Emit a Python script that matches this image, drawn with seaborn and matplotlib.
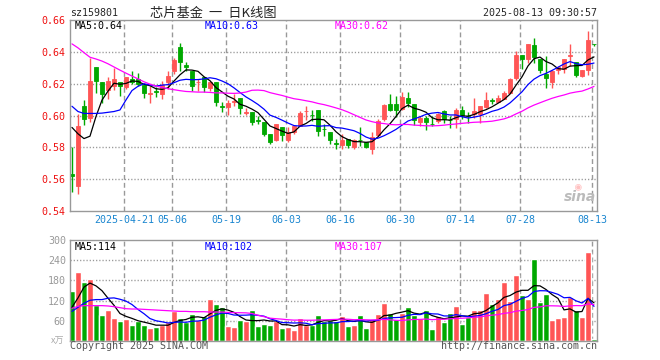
import numpy as np
import pandas as pd
import matplotlib
matplotlib.use('Agg')
import matplotlib.pyplot as plt
import seaborn as sns

# daily K line of sz159801, 2025-04-08 .. 2025-08-13 (88 trading days)
open_ = [0.5635, 0.556, 0.606, 0.5982, 0.6304, 0.621, 0.6162, 0.6187, 0.6208, 0.618,
         0.6229, 0.6229, 0.6191, 0.6135, 0.6152, 0.6135, 0.6208, 0.6281, 0.6431, 0.6318,
         0.6281, 0.6208, 0.6245, 0.617, 0.6212, 0.6062, 0.6052, 0.6086, 0.6107, 0.6018,
         0.6025, 0.597, 0.5957, 0.5884, 0.5846, 0.5926, 0.5846, 0.5894, 0.5932, 0.6026,
         0.6004, 0.6034, 0.5916, 0.5898, 0.5826, 0.5815, 0.5852, 0.580, 0.5848, 0.5832,
         0.579, 0.5878, 0.5978, 0.607, 0.607, 0.604, 0.6112, 0.6074, 0.5959, 0.5982,
         0.5946, 0.5965, 0.6028, 0.5972, 0.5976, 0.6034, 0.5998, 0.6011, 0.6011, 0.6055,
         0.6097, 0.6084, 0.6101, 0.6143, 0.6237, 0.6377, 0.6352, 0.6446, 0.6352, 0.6262,
         0.621, 0.6289, 0.6293, 0.6371, 0.6335, 0.6247, 0.6285, 0.645]
high = [0.580, 0.6007, 0.6097, 0.6364, 0.6304, 0.621, 0.6243, 0.630, 0.6208, 0.6245,
        0.6277, 0.6264, 0.6191, 0.6187, 0.6176, 0.6218, 0.6279, 0.6364, 0.6454, 0.6333,
        0.6281, 0.6229, 0.6245, 0.6218, 0.6212, 0.6082, 0.610, 0.6132, 0.6107, 0.605,
        0.6025, 0.600, 0.5957, 0.5884, 0.5946, 0.5926, 0.5926, 0.5932, 0.603, 0.6061,
        0.6034, 0.6034, 0.5946, 0.5898, 0.5852, 0.5884, 0.5852, 0.5852, 0.5926, 0.5832,
        0.5894, 0.5978, 0.6072, 0.6135, 0.6125, 0.6149, 0.6147, 0.6074, 0.5997, 0.5997,
        0.5997, 0.6017, 0.6034, 0.5997, 0.6049, 0.6059, 0.6024, 0.6107, 0.6059, 0.6147,
        0.6112, 0.6126, 0.6153, 0.6237, 0.6404, 0.6383, 0.645, 0.6484, 0.6352, 0.6373,
        0.6289, 0.631, 0.6356, 0.6452, 0.6335, 0.6285, 0.653, 0.645]
low = [0.552, 0.5508, 0.5942, 0.596, 0.614, 0.608, 0.6103, 0.6162, 0.6124, 0.6166,
       0.6201, 0.6187, 0.6112, 0.6076, 0.6118, 0.6103, 0.6166, 0.626, 0.6281, 0.6281,
       0.6155, 0.6155, 0.6149, 0.6155, 0.6061, 0.6023, 0.6003, 0.6061, 0.601, 0.6003,
       0.594, 0.5946, 0.5873, 0.5821, 0.5842, 0.5842, 0.5832, 0.5884, 0.5932, 0.5971,
       0.5967, 0.5873, 0.5873, 0.5821, 0.579, 0.579, 0.5794, 0.579, 0.581, 0.5794,
       0.5758, 0.5873, 0.5967, 0.603, 0.599, 0.6034, 0.6055, 0.5938, 0.5934, 0.5909,
       0.5934, 0.5955, 0.5951, 0.5923, 0.5923, 0.5976, 0.5951, 0.5986, 0.5955, 0.6049,
       0.607, 0.6084, 0.6101, 0.6143, 0.6226, 0.6293, 0.6331, 0.6327, 0.6268, 0.6174,
       0.6174, 0.6258, 0.6264, 0.631, 0.6243, 0.6241, 0.6252, 0.6435]
close = [0.562, 0.5934, 0.598, 0.6216, 0.6218, 0.6135, 0.6216, 0.6229, 0.6183, 0.6245,
         0.6212, 0.6201, 0.6139, 0.6139, 0.6149, 0.6193, 0.625, 0.635, 0.6337, 0.6302,
         0.6187, 0.6212, 0.618, 0.6212, 0.6086, 0.6052, 0.6076, 0.6093, 0.6045, 0.6025,
         0.5961, 0.5965, 0.5884, 0.5836, 0.5946, 0.5878, 0.5894, 0.5932, 0.6015, 0.603,
         0.6002, 0.5905, 0.5913, 0.5846, 0.5824, 0.5848, 0.5815, 0.5846, 0.5844, 0.5805,
         0.5867, 0.5967, 0.6067, 0.6034, 0.6034, 0.6114, 0.6076, 0.5972, 0.5982, 0.5959,
         0.5944, 0.6007, 0.5976, 0.597, 0.6034, 0.6003, 0.5995, 0.6028, 0.6059, 0.6097,
         0.6094, 0.6107, 0.6143, 0.6231, 0.6377, 0.6356, 0.645, 0.6369, 0.6283, 0.6237,
         0.6279, 0.6304, 0.6352, 0.6379, 0.6252, 0.6285, 0.6477, 0.6448]
# volume in 万 shares
volume = [150, 204, 174, 183, 108, 78, 93, 69, 60, 66,
          48, 58, 48, 39, 42, 48, 57, 89, 69, 57,
          81, 63, 75, 126, 111, 102, 45, 42, 63, 60,
          93, 45, 51, 48, 60, 39, 42, 33, 69, 48,
          48, 78, 60, 62, 60, 75, 45, 48, 78, 39,
          66, 81, 114, 84, 66, 84, 102, 78, 69, 93,
          36, 75, 57, 84, 105, 51, 72, 93, 93, 144,
          111, 126, 174, 120, 195, 138, 126, 243, 117, 141,
          63, 69, 72, 132, 93, 72, 264, 6]

ma5_head = [0.5925, 0.5885, 0.5855, 0.5870]
ma10_head = [0.6058, 0.6025, 0.6013, 0.6013, 0.6013, 0.6015, 0.6020, 0.6025, 0.6035]
ma30_head = [0.6450, 0.6425, 0.6395, 0.6366, 0.6355, 0.6342, 0.6325, 0.6305, 0.6285, 0.6266,
             0.6248, 0.6230, 0.6212, 0.6197, 0.6185, 0.6176, 0.6168, 0.6162, 0.6156, 0.6151,
             0.6149, 0.6147, 0.6147, 0.6145, 0.6142, 0.6142, 0.6140, 0.6139, 0.6141]
vma5_head = [100, 128, 160, 172]
vma10_head = [88, 100, 112, 121, 123, 123, 127, 128, 124]
vma30_head = [97, 103, 105, 105, 105, 105, 104, 102, 99, 96,
              95, 95, 94, 93, 92, 91, 90, 89, 88, 88,
              87, 87, 87, 86, 86, 86, 85, 84, 84]

date_pos = [9, 17, 26, 36, 45, 55, 65, 75, 87]
date_labels = ['2025-04-21', '05-06', '05-19', '06-03', '06-16', '06-30', '07-14', '07-28', '08-13']
price_ticks = [0.54, 0.56, 0.58, 0.60, 0.62, 0.64, 0.66]
vol_ticks = [0, 60, 120, 180, 240, 300]

RED = '#ff5555'
GREEN = '#00a800'
GRID = '#999999'
MONO = 'DejaVu Sans Mono'
CJK = ['Noto Sans CJK SC', 'DejaVu Sans']
FS = 7.2


def moving_avg(values, n, head):
    ma = pd.Series(values, dtype=float).rolling(n).mean()
    ma.iloc[:len(head)] = head
    return ma


def fx(x):
    return x / 660


def fy(y):
    return 1 - y / 360


sns.set_theme(style='white')
plt.rcParams['font.family'] = [MONO, 'Noto Sans CJK SC']
plt.rcParams['lines.scale_dashes'] = False

day = np.arange(len(close))
o = np.array(open_)
c = np.array(close)
up = c >= o
colors = np.where(up, RED, GREEN)

fig = plt.figure(figsize=(6.6, 3.6), dpi=100)
axp = fig.add_axes([fx(70), fy(211), 527 / 660, 191 / 360])
axv = fig.add_axes([fx(70), fy(341), 527 / 660, 101 / 360])

# grid lines, kept under the bars
for ax, ticks in [(axp, price_ticks[1:-1]), (axv, vol_ticks[1:-1])]:
    for p in date_pos:
        ax.axvline(p - 0.3, color=GRID, linestyle=(0, (3.5, 2.2)), lw=1.0, zorder=1.2)
    for t in ticks:
        ax.axhline(t, color=GRID, linestyle=(0, (0.9, 1.4)), lw=1.0, zorder=1.2)

# candles
axp.vlines(day, low, high, colors=colors, lw=1, zorder=2)
axp.bar(day, np.abs(c - o), bottom=np.minimum(o, c), width=0.8,
        color=colors, edgecolor=colors, linewidth=0.6, zorder=2)
for n, head, col in [(5, ma5_head, 'black'), (10, ma10_head, '#0000ff'), (30, ma30_head, '#ff00ff')]:
    sns.lineplot(x=day, y=moving_avg(close, n, head), color=col, lw=0.9, ax=axp, zorder=3)

# volume
df = pd.DataFrame({'day': day, 'volume': volume, 'dir': np.where(up, 'up', 'down')})
sns.barplot(data=df, x='day', y='volume', hue='dir', palette={'up': RED, 'down': GREEN},
            native_scale=True, dodge=False, width=0.85, saturation=1, errorbar=None,
            legend=False, ax=axv, zorder=2)
for n, head, col in [(5, vma5_head, 'black'), (10, vma10_head, '#0000ff'), (30, vma30_head, '#ff00ff')]:
    sns.lineplot(x=day, y=moving_avg(volume, n, head), color=col, lw=0.9, ax=axv, zorder=3)

for ax in (axp, axv):
    ax.set_xlim(-0.33, 87.5)
    ax.set_xticks([p - 0.3 for p in date_pos])
    ax.set_xlabel('')
    ax.set_ylabel('')
    ax.tick_params(length=0, pad=3)
    for s in ax.spines.values():
        s.set_visible(True)
        s.set_color(GRID)
        s.set_linewidth(1.0)

axp.set_ylim(0.54, 0.66)
axp.set_yticks(price_ticks)
axp.set_yticklabels([f'{t:.2f}' for t in price_ticks], color='#ee1111', fontsize=FS, family=MONO)
axp.set_xticklabels(date_labels, color='#1a86d0', fontsize=FS, family=MONO)

axv.set_ylim(0, 300)
axv.set_yticks(vol_ticks)
axv.set_yticklabels([''] + [str(t) for t in vol_ticks[1:]], color='#999999', fontsize=FS, family=MONO)
axv.set_xticklabels([])

# header
fig.text(fx(70), fy(13), 'sz159801', ha='left', va='center', fontsize=FS, family=MONO)
fig.text(fx(213), fy(13), '芯片基金  一  日K线图', ha='center', va='center', fontsize=9.5, family=CJK)
fig.text(fx(597), fy(13), '2025-08-13 09:30:57', ha='right', va='center', fontsize=FS, family=MONO)

# MA legends
for y, texts in [(26, ['MA5:0.64', 'MA10:0.63', 'MA30:0.62']), (247, ['MA5:114', 'MA10:102', 'MA30:107'])]:
    for x, t, col in zip([75, 205, 335], texts, ['black', '#0000ff', '#ff00ff']):
        fig.text(fx(x), fy(y), t, ha='left', va='center', fontsize=FS, family=MONO, color=col)

fig.text(fx(64), fy(341), 'x万', ha='right', va='center', fontsize=6.5, family=CJK, color='#aaaaaa')
fig.text(fx(70), fy(346), 'Copyright 2025 SINA.COM', ha='left', va='center', fontsize=FS, family=MONO, color='#555555')
fig.text(fx(597), fy(346), 'http://finance.sina.com.cn', ha='right', va='center', fontsize=FS, family=MONO, color='#555555')

# faint sina watermark
fig.text(fx(578), fy(186), '◉', ha='center', va='center', fontsize=8, color='#ff9999', alpha=0.6)
fig.text(fx(596), fy(197), 'sina', ha='right', va='center', fontsize=10, fontweight='bold',
         style='italic', family='DejaVu Sans', color='#bbbbbb')

fig.savefig('out.png', dpi=100)
